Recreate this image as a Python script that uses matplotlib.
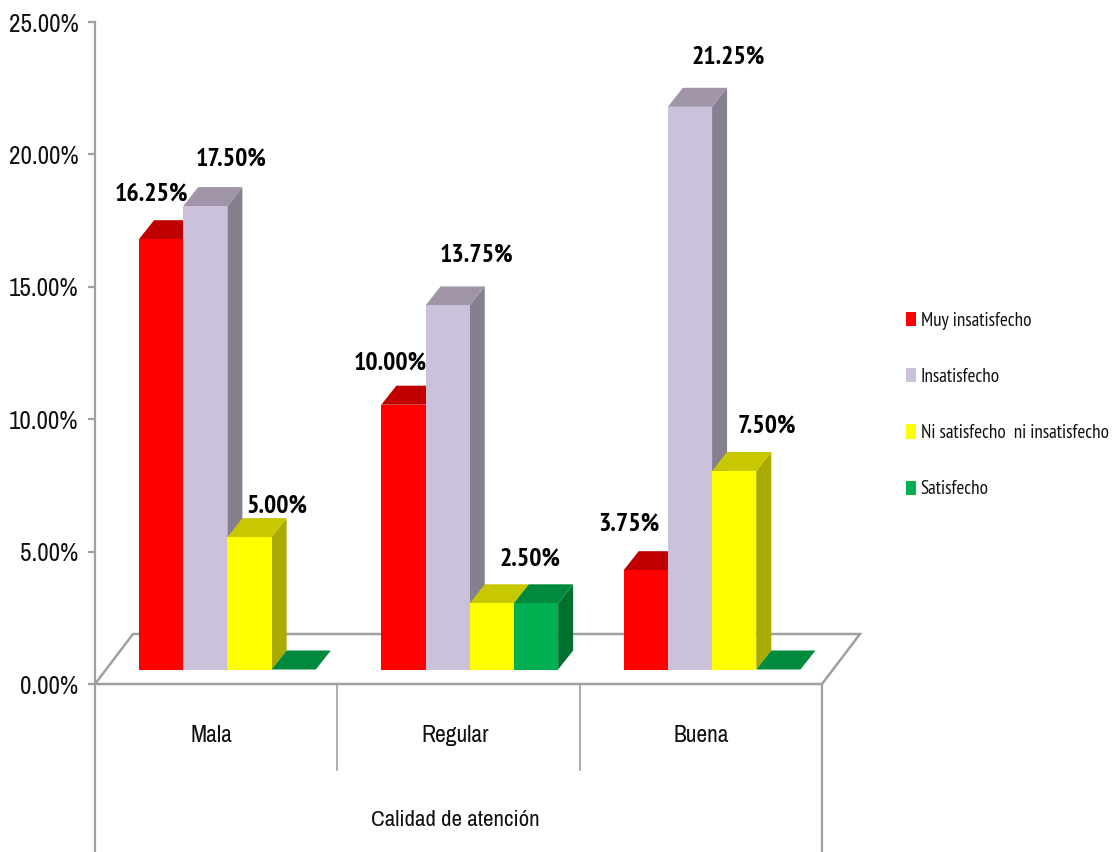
# -*- coding: utf-8 -*-
# Barras pseudo-3D: calidad de atencion vs satisfaccion
import matplotlib
matplotlib.use('Agg')
import matplotlib.pyplot as plt
from matplotlib.patches import Patch, Polygon

W, H = 1120, 852
FONT = ['Archivo Narrow', 'Liberation Sans', 'DejaVu Sans']
FONT_LEG = ['PT Sans Narrow', 'Liberation Sans', 'DejaVu Sans']
plt.rcParams['font.family'] = FONT

# ── datos ──
categories = ['Mala', 'Regular', 'Buena']
series = ['Muy insatisfecho', 'Insatisfecho', 'Ni satisfecho  ni insatisfecho', 'Satisfecho']
muy_insatisfecho = [16.25, 10.00, 3.75]
insatisfecho = [17.50, 13.75, 21.25]
ni_ni = [5.00, 2.50, 7.50]
satisfecho = [0.00, 2.50, 0.00]
y_ticks = [0, 5, 10, 15, 20, 25]
axis_title = 'Calidad de atención'

# ── estilo ──
FRONT = ['#ff0000', '#ccc1da', '#ffff00', '#00b050']
TOP = ['#c00000', '#a095a8', '#c8c800', '#008a3e']
SIDE = ['#900000', '#857f90', '#aaaa00', '#007030']
GREY = '#a0a0a0'

fig = plt.figure(figsize=(W / 100, H / 100), dpi=100)
L, R, T, B = 95, 822, 22, 684
ax = fig.add_axes([L / W, 1 - B / H, (R - L) / W, (B - T) / H])
ax.set_xlim(0, 3); ax.set_ylim(0, 25)
ax.patch.set_alpha(0)
PX = 3 / (R - L)              # 1 px en x
PY = 25 / (B - T)             # 1 px en y

for s in ['top', 'right', 'bottom']:
    ax.spines[s].set_visible(False)
ax.spines['left'].set_color(GREY); ax.spines['left'].set_linewidth(1.6)
ax.set_yticks(y_ticks)
ax.set_yticklabels([f'{v:.2f}%' for v in y_ticks], fontsize=18, color='#111111')
ax.tick_params(axis='y', length=5, width=1.6, color=GREY, pad=7)
ax.set_xticks([])

# piso
fd_x, fd_y = 38 * PX, 50 * PY
floor = Polygon([(0, 0), (fd_x, fd_y), (3 + fd_x, fd_y), (3, 0)], closed=True, fc='white',
                ec=GREY, lw=1.8, clip_on=False, zorder=1)
ax.add_patch(floor)
# lineas debajo del eje
ax.plot([0, 0], [0, -168 * PY], color=GREY, lw=1.6, clip_on=False, zorder=2)
ax.plot([3, 3], [0, -168 * PY], color=GREY, lw=1.6, clip_on=False, zorder=2)
for i in [1, 2]:
    ax.plot([i, i], [0, -86 * PY], color=GREY, lw=1.2, clip_on=False, zorder=2)

# barras
BW = 44.2 * PX                # ancho de barra
GAP = 44 * PX                 # margen a la izquierda del grupo
BASE = 14.5 * PY              # la barra arranca dentro del piso
DX, DY = 15 * PX, 19 * PY     # profundidad
z = 3
for c in range(len(categories)):
    vals = [muy_insatisfecho[c], insatisfecho[c], ni_ni[c], satisfecho[c]]
    for k, v in enumerate(vals):
        x0 = c + GAP + k * BW
        x1 = x0 + BW
        y0, y1 = BASE, BASE + v
        if v > 0:
            ax.add_patch(Polygon([(x1, y0), (x1 + DX, y0 + DY), (x1 + DX, y1 + DY), (x1, y1)],
                                 fc=SIDE[k], ec='none', clip_on=False, zorder=z))
            ax.add_patch(Polygon([(x0, y0), (x1, y0), (x1, y1), (x0, y1)],
                                 fc=FRONT[k], ec='none', clip_on=False, zorder=z + 0.2))
        ax.add_patch(Polygon([(x0, y1), (x1, y1), (x1 + DX, y1 + DY), (x0 + DX, y1 + DY)],
                             fc=TOP[k], ec='none', clip_on=False, zorder=z + 0.1))
        z += 1

# etiquetas de datos: desplazamiento en px respecto a la esquina frontal de cada barra
label_off = {(0, 0): (12, 45), (0, 1): (48, 47), (0, 2): (50, 31),
             (1, 0): (9, 42), (1, 1): (51, 50), (1, 2): (60, 44),
             (2, 0): (5, 46), (2, 1): (60, 50), (2, 2): (55, 45)}
for (c, k), (ox, oy) in label_off.items():
    v = [muy_insatisfecho, insatisfecho, ni_ni][k][c]
    ax.annotate(f'{v:.2f}%', (c + GAP + k * BW, BASE + v), xytext=(ox, oy), textcoords='offset pixels',
                ha='center', va='center', fontsize=18.5, fontweight='bold', color='black',
                family=FONT_LEG, annotation_clip=False, zorder=200)

# categorias
cat_off = [-5, -3, 0]
for i, name in enumerate(categories):
    ax.annotate(name, (i + 0.5, 0), xytext=(cat_off[i], -51), textcoords='offset pixels',
                ha='center', va='center', fontsize=17, color='#111111', annotation_clip=False)
ax.annotate(axis_title, (1.5, 0), xytext=(-3, -136), textcoords='offset pixels',
            ha='center', va='center', fontsize=16.5, color='#111111', annotation_clip=False)

# leyenda
handles = [Patch(fc=c, ec='none', label=n) for c, n in zip(FRONT, series)]
fig.legend(handles=handles, loc='center left', bbox_to_anchor=(900 / W, 1 - 405 / H), frameon=False,
           prop={'family': FONT_LEG, 'size': 13.8}, handlelength=0.52, handleheight=0.78,
           handletextpad=0.27, labelspacing=2.0, borderaxespad=0, borderpad=0.3, labelcolor='#111111')

fig.savefig('out.png', dpi=100, facecolor='white')
